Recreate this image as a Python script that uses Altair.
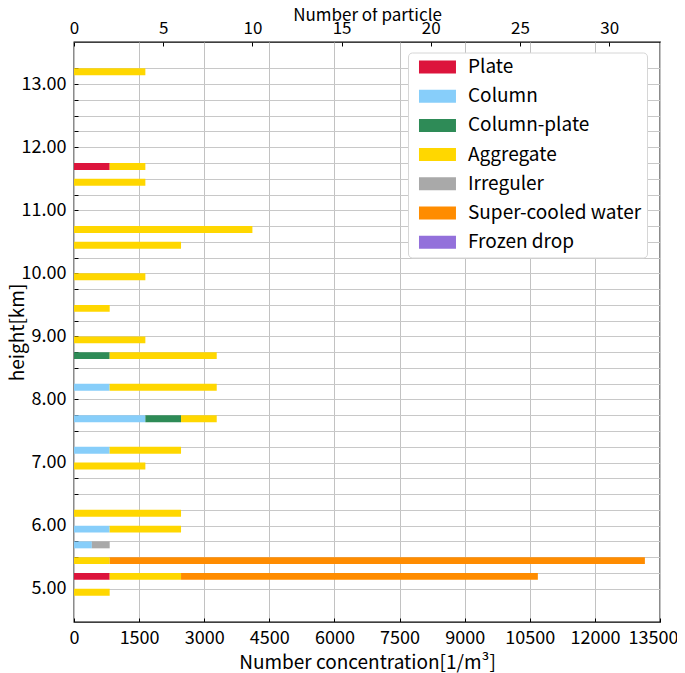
import altair as alt
import pandas as pd

# ---- data (particle counts per 0.25 km height bin, bin top value) ----
heights = [13.25, 11.75, 11.50, 10.75, 10.50, 10.00, 9.50, 9.00, 8.75, 8.25,
           7.75, 7.25, 7.00, 6.25, 6.00, 5.75, 5.50, 5.25, 5.00]
plate        = [0, 2, 0, 0, 0, 0, 0, 0, 0, 0, 0, 0, 0, 0, 0, 0, 0, 2, 0]
column       = [0, 0, 0, 0, 0, 0, 0, 0, 0, 2, 4, 2, 0, 0, 2, 1, 0, 0, 0]
column_plate = [0, 0, 0, 0, 0, 0, 0, 0, 2, 0, 2, 0, 0, 0, 0, 0, 0, 0, 0]
aggregate    = [4, 2, 4, 10, 6, 4, 2, 4, 6, 6, 2, 4, 4, 6, 4, 0, 2, 4, 2]
irreguler    = [0, 0, 0, 0, 0, 0, 0, 0, 0, 0, 0, 0, 0, 0, 0, 1, 0, 0, 0]
supercooled  = [0, 0, 0, 0, 0, 0, 0, 0, 0, 0, 0, 0, 0, 0, 0, 0, 30, 20, 0]
frozen_drop  = [0, 0, 0, 0, 0, 0, 0, 0, 0, 0, 0, 0, 0, 0, 0, 0, 0, 0, 0]

categories = ["Plate", "Column", "Column-plate", "Aggregate", "Irreguler",
              "Super-cooled water", "Frozen drop"]
colors = ["#DC143C", "#87CEFA", "#2E8B57", "#FFD700", "#A9A9A9", "#FF8C00", "#9370DB"]
series = [plate, column, column_plate, aggregate, irreguler, supercooled, frozen_drop]

CONC_PER_PARTICLE = 411.0     # 1/m^3 per counted particle
X_MAX = 13500
x_ticks = [0, 1500, 3000, 4500, 6000, 7500, 9000, 10500, 12000, 13500]
top_ticks = [0, 5, 10, 15, 20, 25, 30]
y_ticks = [5.0 + 0.25 * i for i in range(34)]
Y_DOMAIN = [4.472, 13.668]
BAR_H = 0.11

rows = []
for k, (cat, counts) in enumerate(zip(categories, series)):
    for h, n in zip(heights, counts):
        if n > 0:
            rows.append({"height": h, "category": cat, "order": k, "count": n})
df = pd.DataFrame(rows)

FONT = "Noto Sans CJK JP"
FS = 18
TFS = 19

bars = alt.Chart(df).transform_calculate(
    conc=f"datum.count * {CONC_PER_PARTICLE}",
    ylo=f"datum.height - {BAR_H}",
).transform_stack(
    stack="conc", groupby=["height"], as_=["x0", "x1"],
    sort=[alt.SortField("order", order="ascending")],
).mark_rect().encode(
    x=alt.X("x0:Q",
            scale=alt.Scale(domain=[0, X_MAX], nice=False, zero=False),
            axis=alt.Axis(orient="bottom", values=x_ticks, format="d",
                          title="Number concentration[1/m³]",
                          titleY=50, titleBaseline="alphabetic",
                          offset=-4, tickSize=4, domain=False, grid=True,
                          gridColor="#c2c2c2", gridWidth=1,
                          labelPadding=7, labelFlush=False,
                          labelOffset={"condition": {"test": "datum.value === 13500", "value": -7},
                                       "value": 0})),
    x2="x1:Q",
    y=alt.Y("ylo:Q",
            scale=alt.Scale(domain=Y_DOMAIN, nice=False, zero=False),
            axis=alt.Axis(orient="left", values=y_ticks,
                          labelExpr="datum.value % 1 === 0 ? format(datum.value, '.2f') : ''",
                          title="height[km]", titleX=-55, titleBaseline="alphabetic",
                          offset=-4, tickSize=4, domain=False, grid=True,
                          gridColor="#c8c8c8", gridWidth=1,
                          labelPadding=8)),
    y2="height:Q",
    color=alt.Color("category:N",
                    scale=alt.Scale(domain=categories, range=colors),
                    legend=alt.Legend(title=None, orient="none", legendX=334, legendY=10.5,
                                      direction="vertical",
                                      symbolType="M-0.54,-1L5.15,-1L5.15,1L-0.54,1Z",
                                      symbolSize=169, symbolStrokeWidth=0, symbolOpacity=1,
                                      labelFont=FONT, labelFontSize=19, labelColor="black",
                                      labelLimit=0,
                                      labelOffset=36, rowPadding=9.2, padding=5,
                                      fillColor="white", strokeColor="#d6d6d6",
                                      cornerRadius=4)),
)

top_df = pd.DataFrame({"particles": top_ticks})
top = alt.Chart(top_df).mark_point(opacity=0).encode(
    x=alt.X("particles:Q",
            scale=alt.Scale(domain=[0, X_MAX / CONC_PER_PARTICLE], nice=False, zero=False),
            axis=alt.Axis(orient="top", values=top_ticks, title="Number of particle",
                          titleY=-26, titleBaseline="alphabetic", titleFontSize=17,
                          offset=-4, tickSize=4, domain=False, grid=False,
                          labelFontSize=17, labelPadding=5, labelFlush=False)),
)

chart = alt.layer(bars, top).resolve_scale(x="independent").properties(
    width=586, height=580,
    autosize=alt.AutoSizeParams(type="none"),
    padding={"left": 66, "top": 34, "right": 17, "bottom": 52},
).configure_view(
    stroke="black", strokeWidth=1.3
).configure_axis(
    labelFont=FONT, titleFont=FONT, labelFontSize=FS, titleFontSize=TFS,
    labelColor="black", titleColor="black", titleFontWeight="normal",
    tickColor="black", tickWidth=1,
)

chart.save("out.html", embed_options={"renderer": "svg", "actions": False})
